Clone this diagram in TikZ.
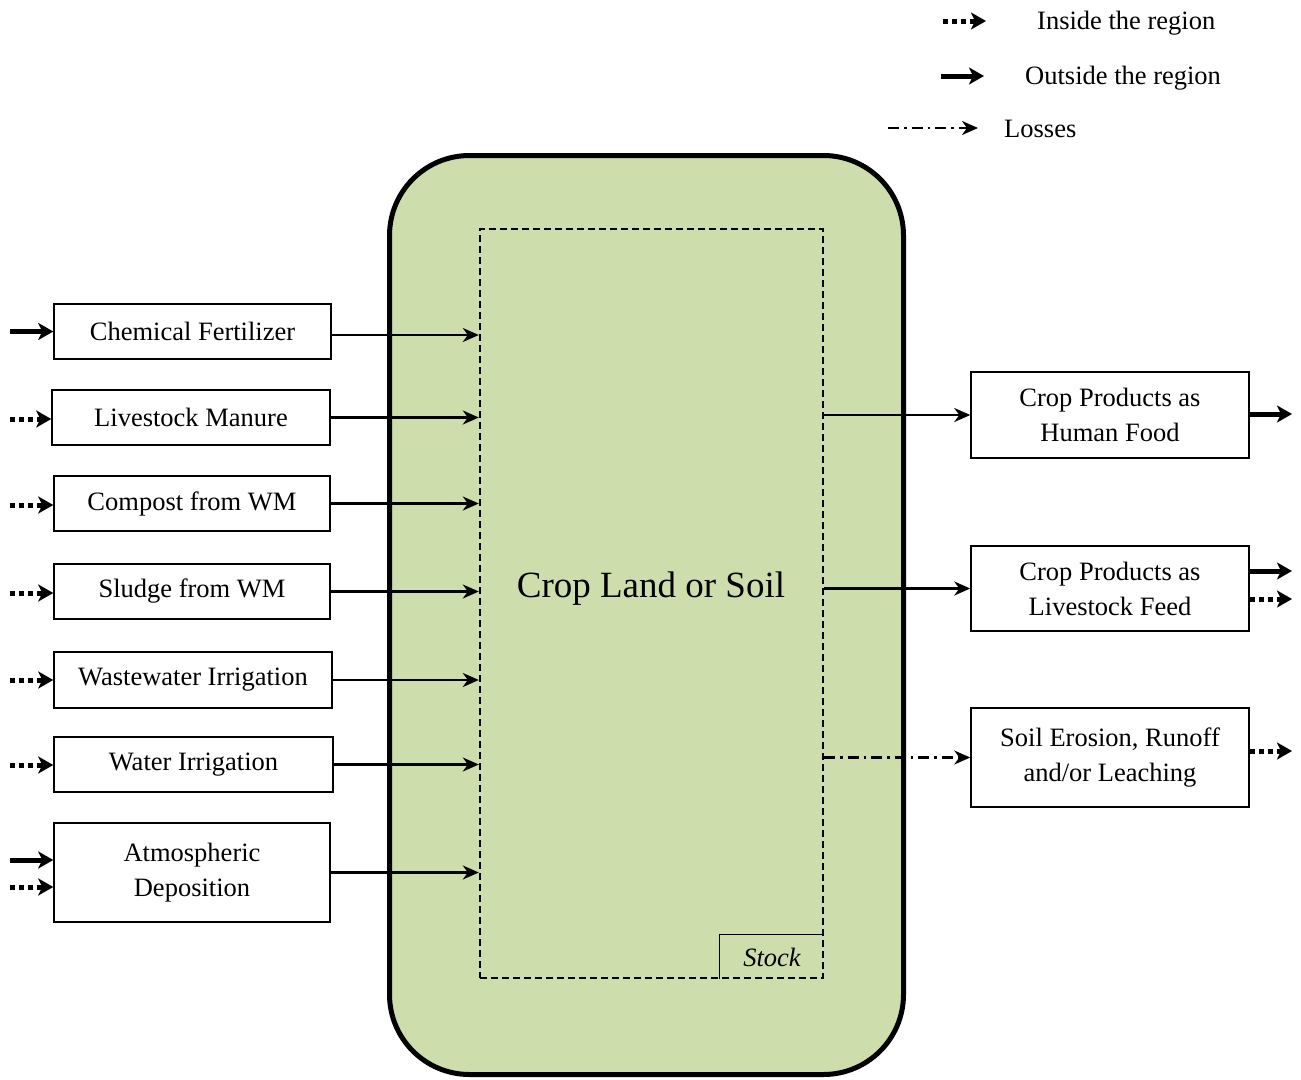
\documentclass[tikz,border=0pt]{standalone}
\usepackage{fontspec}
\setmainfont{Liberation Serif}
\usetikzlibrary{arrows.meta,calc}
\definecolor{soilgreen}{RGB}{205,221,172}

\begin{document}
\begin{tikzpicture}[x=1pt,y=-1pt,
  txt/.style={font=\fontsize{26.5}{35}\selectfont},
  box/.style={txt,draw,line width=1.5pt,fill=white,inner sep=0pt,align=center},
  flow/.style={line width=2.2pt,-{Stealth[length=16pt,width=14pt,inset=5pt]}},
  lossflow/.style={flow,dash pattern=on 11pt off 5pt on 2.5pt off 5pt},
  outside/.style={line width=5pt,-{Stealth[length=15pt,width=17pt,inset=4pt]}},
  inside/.style={line width=5pt,dash pattern=on 5pt off 4pt,
    -{Stealth[length=15pt,width=17pt,inset=4pt]}},
]
\useasboundingbox (0,0) rectangle (1301,1079);

% crop land body and the soil stock inside it
\node[draw,line width=5pt,fill=soilgreen,rounded corners=80pt,
  minimum width=514pt,minimum height=919pt] (land) at (646.5,615) {};
\node[draw,line width=2.4pt,dash pattern=on 7pt off 4pt,
  minimum width=343pt,minimum height=749pt] (soil) at (651.5,603.5) {};
\node[font=\fontsize{37}{40}\selectfont] (title) at (651,589) {Crop Land or Soil};
\node[txt,font=\fontsize{26.5}{35}\selectfont\itshape,anchor=south east,
  minimum width=104pt,minimum height=44pt,inner sep=0pt] (stock) at (soil.south east) {\raisebox{-3pt}{Stock}};
\draw[line width=1.2pt] (stock.south west) |- (stock.north east);

% inputs
\node[box,minimum width=277pt,minimum height=55pt] (cf) at (192.5,331.5) {Chemical Fertilizer};
\node[box,minimum width=278pt,minimum height=55pt] (lm) at (191,417.5) {Livestock Manure};
\node[box,minimum width=276pt,minimum height=55pt] (cw) at (192,503.5) {Compost from WM};
\node[box,minimum width=276pt,minimum height=55pt] (sw) at (192,591.5) {Sludge from WM};
\node[box,minimum width=278pt,minimum height=56pt] (wi) at (193,680) {Wastewater Irrigation};
\node[box,minimum width=279pt,minimum height=55pt] (ir) at (193.5,764.5) {Water Irrigation};
\node[box,minimum width=276pt,minimum height=99pt] (ad) at (192,872.5) {Atmospheric\\Deposition};

% outputs
\node[box,minimum width=278pt,minimum height=86pt] (hf) at (1110,415) {Crop Products as\\Human Food};
\node[box,minimum width=278pt,minimum height=85pt] (lf) at (1110,588.5) {Crop Products as\\Livestock Feed};
\node[box,minimum width=278pt,minimum height=99pt] (se) at (1110,757.5) {Soil Erosion, Runoff\\and/or Leaching};

% flows into the soil
\coordinate (cfout) at ($(cf.east)+(0,3.5)$);
\draw[flow] (cfout) -- (cfout -| soil.west);
\foreach \n in {lm,cw,sw,wi,ir,ad}
  \draw[flow] (\n.east) -- (\n.east -| soil.west);

% flows out of the soil
\draw[flow] (hf.west -| soil.east) -- (hf.west);
\draw[flow] (lf.west -| soil.east) -- (lf.west);
\draw[lossflow] (se.west -| soil.east) -- (se.west);

% sources of the inputs
\coordinate (cfsrc) at (10,331.5);
\coordinate (lmsrc) at (10,419);
\coordinate (cwsrc) at (10,505);
\coordinate (swsrc) at (10,593);
\coordinate (wisrc) at (10,680);
\coordinate (irsrc) at (10,765);
\coordinate (adsrc1) at (10,860);
\coordinate (adsrc2) at (10,887);
\draw[outside] (cfsrc) -- (cfsrc -| cf.west);
\draw[inside] (lmsrc) -- (lmsrc -| lm.west);
\draw[inside] (cwsrc) -- (cwsrc -| cw.west);
\draw[inside] (swsrc) -- (swsrc -| sw.west);
\draw[inside] (wisrc) -- (wisrc -| wi.west);
\draw[inside] (irsrc) -- (irsrc -| ir.west);
\draw[outside] (adsrc1) -- (adsrc1 -| ad.west);
\draw[inside] (adsrc2) -- (adsrc2 -| ad.west);

% destinations of the outputs
\coordinate (hfdst) at (1292,414);
\coordinate (lfdst1) at (1292,571);
\coordinate (lfdst2) at (1292,599);
\coordinate (sedst) at (1292,751);
\draw[outside] (hfdst -| hf.east) -- (hfdst);
\draw[outside] (lfdst1 -| lf.east) -- (lfdst1);
\draw[inside] (lfdst2 -| lf.east) -- (lfdst2);
\draw[inside] (sedst -| se.east) -- (sedst);

% legend
\coordinate (k1a) at (943,21);  \coordinate (k1b) at (986,21);
\coordinate (k2a) at (941,76);  \coordinate (k2b) at (984,76);
\coordinate (k3a) at (888,128); \coordinate (k3b) at (978,128);
\draw[inside] (k1a) -- (k1b);
\draw[outside] (k2a) -- (k2b);
\draw[lossflow] (k3a) -- (k3b);
\node[txt,anchor=west,inner sep=0pt] (l1) at (1037,23) {Inside the region};
\node[txt,anchor=west,inner sep=0pt] (l2) at (1025,78) {Outside the region};
\node[txt,anchor=west,inner sep=0pt] (l3) at (1004,129) {Losses};
\end{tikzpicture}
\end{document}
